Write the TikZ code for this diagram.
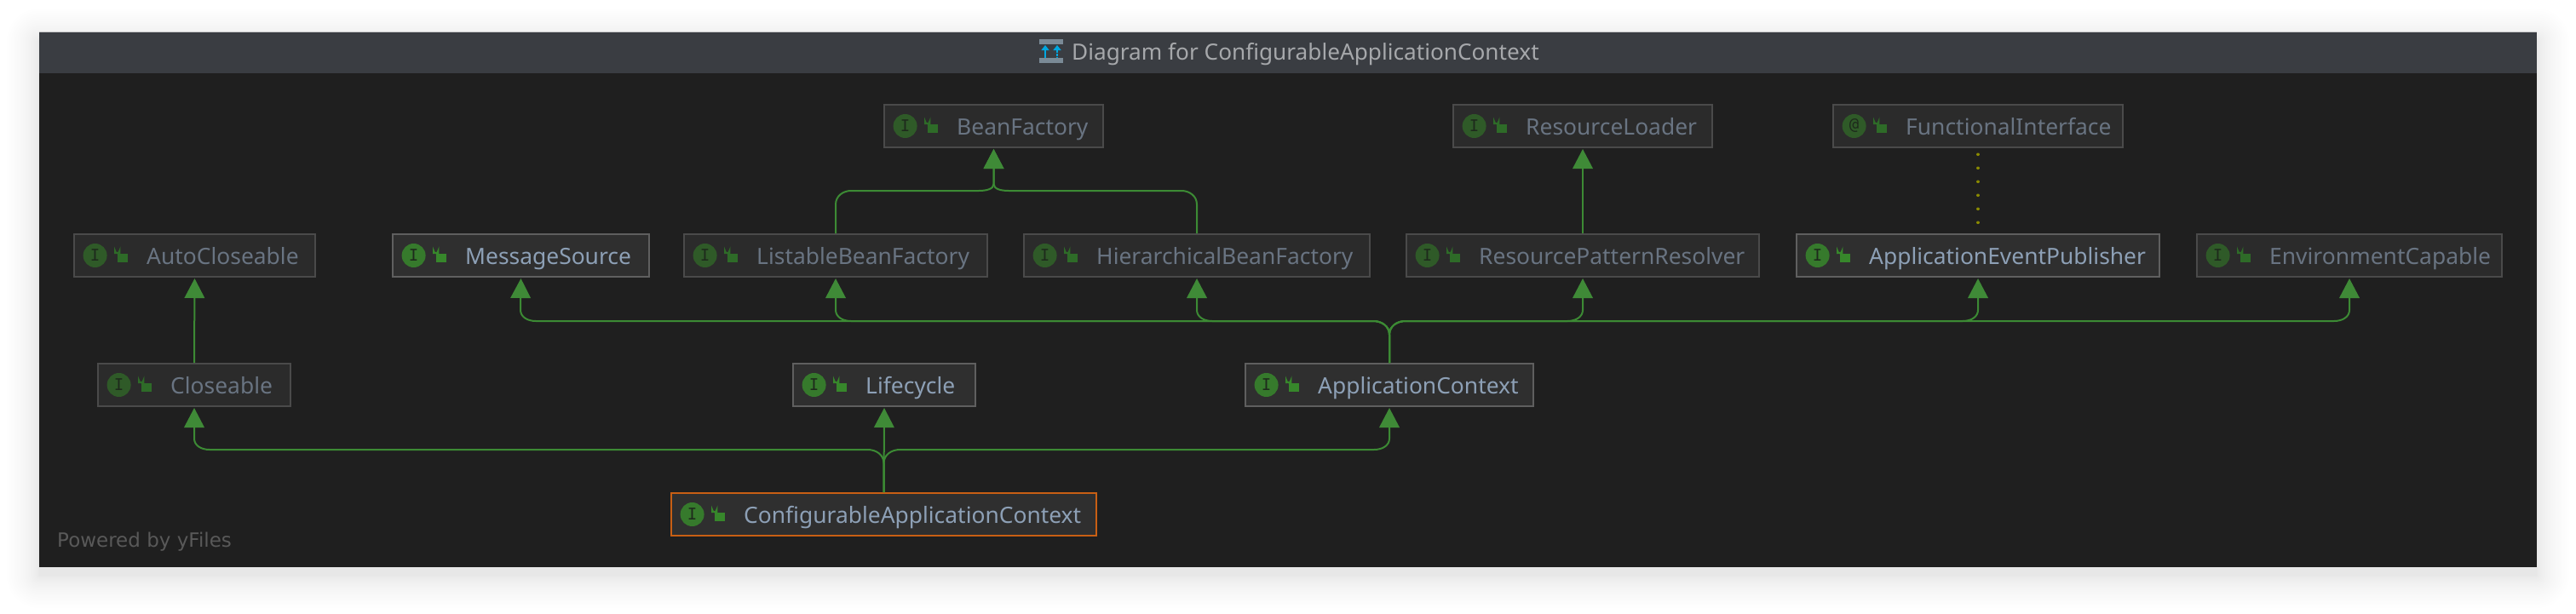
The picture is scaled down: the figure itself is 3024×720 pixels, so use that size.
\documentclass[tikz,border=0pt]{standalone}
\usepackage{fontspec}
\setmainfont{Noto Sans}
\newfontfamily\wmfont{DejaVu Sans}
\newfontfamily\glyphfont{DejaVu Sans Mono}
\usetikzlibrary{arrows.meta}
\definecolor{winbg}{HTML}{1F1F1F}
\definecolor{titlebg}{HTML}{3A3D42}
\definecolor{titletxt}{HTML}{A6A8AB}
\definecolor{edgegreen}{HTML}{3C8A34}
\definecolor{tipgreen}{HTML}{3F8A37}
\definecolor{dotolive}{HTML}{8A8A00}
\definecolor{iconblue}{HTML}{00A7E0}
\definecolor{iconbar}{HTML}{7A8A96}
\tikzset{
  x=1pt,y=-1pt,
  boxbase/.style={rectangle,inner sep=0pt,line width=2pt},
  edge/.style={draw=edgegreen,line width=2pt,-{Triangle[width=23.5pt,length=23pt,fill=tipgreen,color=tipgreen]},shorten >=1pt},
  labeltext/.style={anchor=base west,inner sep=0pt,font=\fontsize{26.4}{30}\selectfont},
}
\newcommand{\ifacebox}[9]{%
  \pgfmathsetmacro{\bw}{#3-#2-2}%
  \pgfmathsetmacro{\cx}{(#2+#3)/2}%
  \pgfmathsetmacro{\cy}{#4+26}%
  \node[boxbase,draw=#7,fill=#8,minimum width=\bw pt,minimum height=50pt] (#1) at (\cx,\cy) {};
  \begin{scope}[shift={(#2,#4)}]
    \colorlet{circ}{#9Circ}\colorlet{lck}{#9Lock}\colorlet{txt}{#9Txt}
    \node[circle,fill=circ,minimum size=28pt,inner sep=0pt,text=#9Glyph,font=\glyphfont\fontsize{19}{19}\selectfont] (#1-c) at (25.6,26) {#6};
    \fill[lck] (52,24) rectangle (64,34);
    \draw[lck,line width=2pt] (49,24) -- (49,20.5) arc[start angle=180,end angle=0,radius=2.7] -- (54.4,24);
    \node[labeltext,text=txt] (#1-l) at (86,36) {#5};
  \end{scope}
}
\newcommand{\busedge}[6]{%
  \pgfmathsetmacro{\ya}{#5+16}\pgfmathsetmacro{\yb}{#5+6}%
  \pgfmathsetmacro{\xc}{#3+#6*9}\pgfmathsetmacro{\xd}{#3+#6*19}%
  \pgfmathsetmacro{\xe}{#4-#6*18}\pgfmathsetmacro{\xf}{#4-#6*8}%
  \pgfmathsetmacro{\yc}{#5-13}\pgfmathsetmacro{\yd}{#5-5}%
  \draw[edge] (#1.north) -- (#3,\ya) .. controls (#3,\yb) and (\xc,#5) .. (\xd,#5) -- (\xe,#5) .. controls (\xf,#5) and (#4,\yd) .. (#4,\yc) -- (#2.south);
}
\definecolor{dimCirc}{HTML}{2F5A28}\definecolor{dimLock}{HTML}{2E6B28}\definecolor{dimTxt}{HTML}{697482}\definecolor{dimGlyph}{HTML}{1E2A1C}
\definecolor{brtCirc}{HTML}{367A2C}\definecolor{brtLock}{HTML}{37872B}\definecolor{brtTxt}{HTML}{8DA0B6}\definecolor{brtGlyph}{HTML}{1E2A1C}
\definecolor{dimB}{HTML}{4A4A4A}\definecolor{dimF}{HTML}{2B2B2B}
\definecolor{brtB}{HTML}{5F5F5F}\definecolor{brtF}{HTML}{2F2F2F}
\definecolor{orgB}{HTML}{C85F14}
\begin{document}
\begin{tikzpicture}
\useasboundingbox (0,0) rectangle (3024,720);
\fill[white] (0,0) rectangle (3024,720);
% soft shadow
\foreach \i in {1,...,24}{
  \pgfmathsetmacro{\d}{38*(\i/24)^1.7}
  \fill[black,opacity=.0045,rounded corners=\d pt] (46-\d,48-\d) rectangle (2978+\d,676+\d);
}
\draw[black!20,line width=1pt] (46,37.5) -- (2978,37.5);
% window
\fill[winbg] (46,38) rectangle (2978,666);
\fill[titlebg] (46,38) rectangle (2978,86);
% title icon
\fill[iconbar] (1220,46) rectangle (1248,52);
\fill[iconbar] (1220,68) rectangle (1248,74);
\fill[iconblue] (1227,53) -- (1231.7,59) -- (1222.3,59) -- cycle;
\fill[iconblue] (1241,53) -- (1245.7,59) -- (1236.3,59) -- cycle;
\draw[iconblue,line width=2pt] (1227,59) -- (1227,68);
\draw[iconblue,line width=2pt,dash pattern=on 2.5pt off 1.5pt] (1241,59) -- (1241,68);
\node[anchor=base west,inner sep=0pt,text=titletxt,font=\fontsize{26.2}{30}\selectfont] (title) at (1258,70) {Diagram for ConfigurableApplicationContext};
\node[anchor=base west,inner sep=0pt,text=black!65,font=\wmfont\fontsize{23}{26}\selectfont] (yfiles) at (67,642) {Powered by yFiles};
% nodes
\ifacebox{bf}{1037}{1296}{122}{BeanFactory}{I}{dimB}{dimF}{dim}
\ifacebox{rl}{1705}{2011}{122}{ResourceLoader}{I}{dimB}{dimF}{dim}
\ifacebox{fi}{2151}{2493}{122}{FunctionalInterface}{@}{dimB}{dimF}{dim}
\ifacebox{auto}{86}{371}{274}{AutoCloseable}{I}{dimB}{dimF}{dim}
\ifacebox{ms}{460}{763}{274}{MessageSource}{I}{brtB}{brtF}{brt}
\ifacebox{lbf}{802}{1160}{274}{ListableBeanFactory}{I}{dimB}{dimF}{dim}
\ifacebox{hbf}{1201}{1609}{274}{HierarchicalBeanFactory}{I}{dimB}{dimF}{dim}
\ifacebox{rpr}{1650}{2066}{274}{ResourcePatternResolver}{I}{dimB}{dimF}{dim}
\ifacebox{aep}{2108}{2536}{274}{ApplicationEventPublisher}{I}{brtB}{brtF}{brt}
\ifacebox{ec}{2578}{2938}{274}{EnvironmentCapable}{I}{dimB}{dimF}{dim}
\ifacebox{close}{114}{342}{426}{Closeable}{I}{dimB}{dimF}{dim}
\ifacebox{life}{930}{1146}{426}{Lifecycle}{I}{brtB}{brtF}{brt}
\ifacebox{ac}{1461}{1801}{426}{ApplicationContext}{I}{brtB}{brtF}{brt}
\ifacebox{cac}{787}{1288}{578}{ConfigurableApplicationContext}{I}{orgB}{brtF}{brt}
% connectors
\draw[edge] (close.north) -- (auto.south);
\draw[edge] (rpr.north) -- (rl.south);
\draw[edge] (cac.north) -- (life.south);
\busedge{cac}{close}{1037.5}{228}{528}{-1}
\busedge{cac}{ac}{1037.5}{1631}{528}{1}
\busedge{ac}{ms}{1631}{611}{377}{-1}
\busedge{ac}{lbf}{1631}{981}{377}{-1}
\busedge{ac}{hbf}{1631}{1405}{377}{-1}
\busedge{ac}{rpr}{1631}{1858}{377}{1}
\busedge{ac}{aep}{1631}{2322}{377}{1}
\busedge{ac}{ec}{1631}{2758}{377}{1}
\draw[edge] (lbf.north) -- (981,240) .. controls (981,230) and (990,224) .. (999,224) -- (1149,224) .. controls (1158,224) and (1166.5,222) .. (1166.5,216) -- (bf.south);
\draw[edge] (hbf.north) -- (1405,240) .. controls (1405,230) and (1396,224) .. (1387,224) -- (1184,224) .. controls (1175,224) and (1166.5,222) .. (1166.5,216) -- (bf.south);
\draw[dotolive,line width=3.6pt,line cap=round,dash pattern=on 0.01pt off 15.99pt,dash phase=8.7pt] (fi.south) -- (aep.north);
\end{tikzpicture}
\end{document}
